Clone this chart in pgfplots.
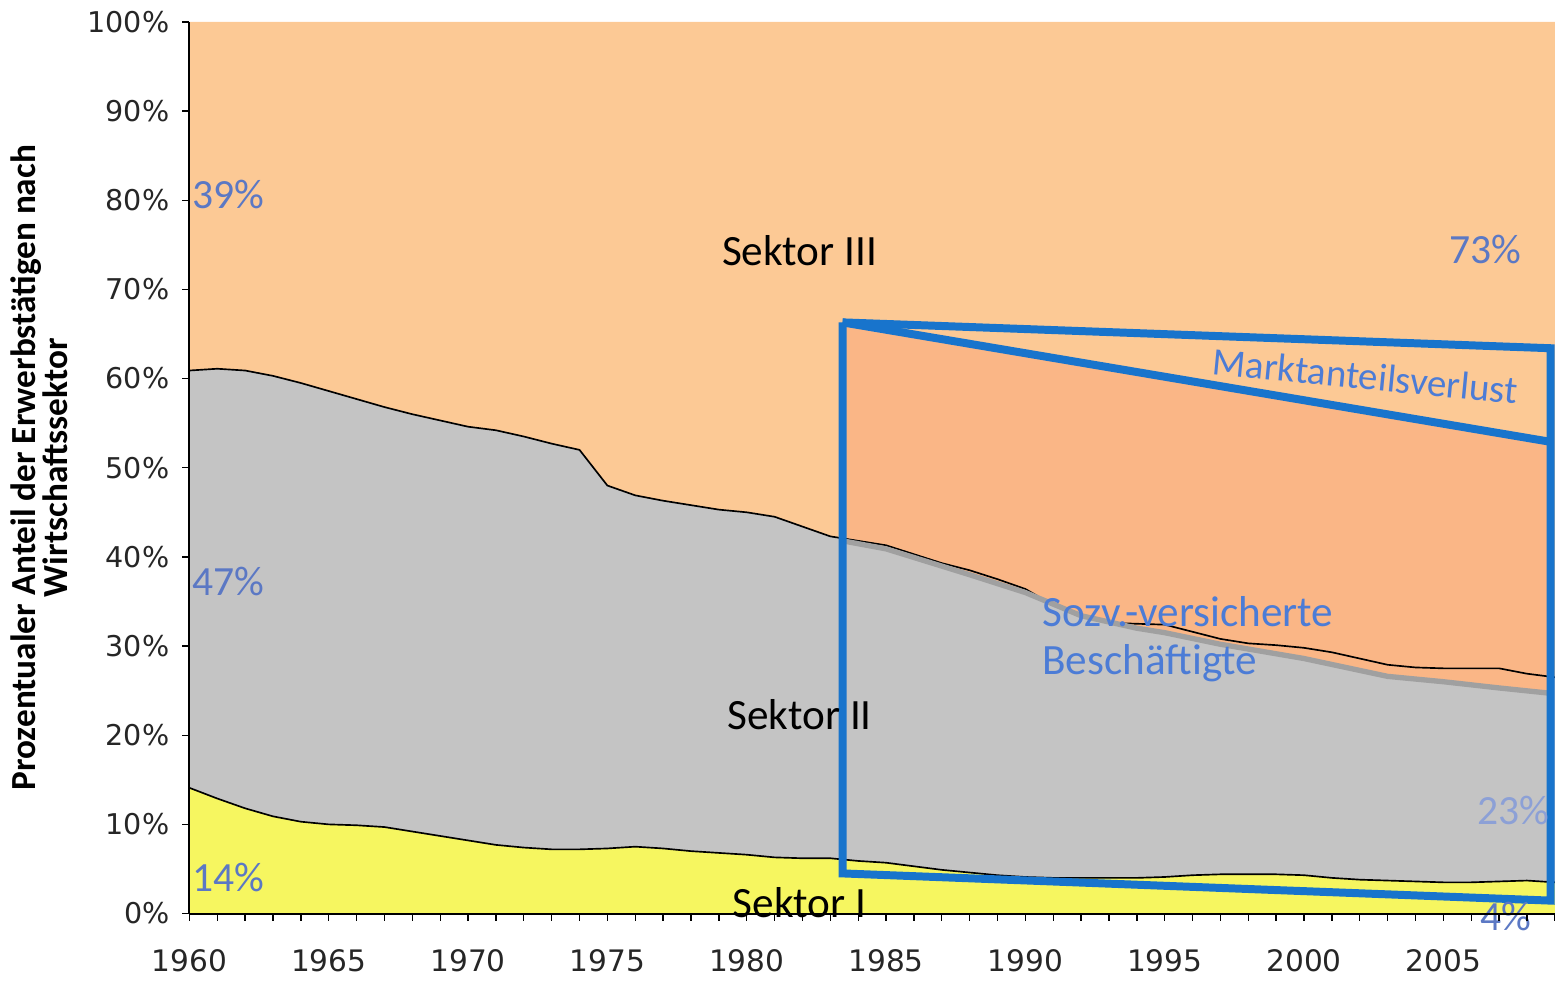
\documentclass[border=0pt]{standalone}
\usepackage{fontspec}
\setmainfont{Carlito}
\newfontfamily\dejavu{DejaVu Sans}
\usepackage{pgfplots}
\usepgfplotslibrary{fillbetween}
\pgfplotsset{compat=1.18}

\definecolor{sek3}{HTML}{FCC995}
\definecolor{sek3dark}{HTML}{FAB686}
\definecolor{sek2}{HTML}{C4C4C4}
\definecolor{sek1}{HTML}{F6F660}
\definecolor{boxblue}{HTML}{1874CC}
\definecolor{pctblue}{HTML}{5B78C4}
\definecolor{txtblue}{HTML}{4C7CD6}
\definecolor{svgrey}{HTML}{A0A0A0}

% upper edge of Sektor I + II (percent)
\pgfplotstableread{
year val
1960 60.9
1961 61.1
1962 60.9
1963 60.3
1964 59.5
1965 58.6
1966 57.7
1967 56.8
1968 56.0
1969 55.3
1970 54.6
1971 54.2
1972 53.5
1973 52.7
1974 52.0
1975 48.0
1976 46.9
1977 46.3
1978 45.8
1979 45.3
1980 45.0
1981 44.5
1982 43.4
1983 42.3
1984 41.8
1985 41.3
1986 40.3
1987 39.3
1988 38.5
1989 37.5
1990 36.4
1991 34.6
1992 33.3
1993 32.6
1994 32.5
1995 32.4
1996 31.6
1997 30.8
1998 30.3
1999 30.1
2000 29.8
2001 29.3
2002 28.6
2003 27.9
2004 27.6
2005 27.5
2006 27.5
2007 27.5
2008 26.9
2009 26.5
}\sektorzwei

% upper edge of Sektor I (percent)
\pgfplotstableread{
year val
1960 14.1
1961 12.9
1962 11.8
1963 10.9
1964 10.3
1965 10.0
1966 9.9
1967 9.7
1968 9.2
1969 8.7
1970 8.2
1971 7.7
1972 7.4
1973 7.2
1974 7.2
1975 7.3
1976 7.5
1977 7.3
1978 7.0
1979 6.8
1980 6.6
1981 6.3
1982 6.2
1983 6.2
1984 5.9
1985 5.7
1986 5.3
1987 4.9
1988 4.6
1989 4.3
1990 4.1
1991 4.0
1992 4.0
1993 4.0
1994 4.0
1995 4.1
1996 4.3
1997 4.4
1998 4.4
1999 4.4
2000 4.3
2001 4.0
2002 3.8
2003 3.7
2004 3.6
2005 3.5
2006 3.5
2007 3.6
2008 3.7
2009 3.5
}\sektoreins

% sozialversicherte Beschaeftigte (grey line in the box)
\pgfplotstableread{
year val
1983.44 41.8
1985 40.9
1988 38.0
1990 36.0
1992 33.4
1994 32.0
1995 31.5
1997 30.2
2000 28.6
2003 26.6
2005 26.0
2007 25.3
2008.85 24.7
}\svline

\begin{document}
\begin{tikzpicture}
\begin{axis}[
    width=410.7pt, height=268.2pt, scale only axis,
    xmin=1960, xmax=2009, ymin=0, ymax=100,
    axis x line=bottom, axis y line=left,
    axis line style={-, black, line width=0.6pt},
    axis on top,
    clip=false,
    xtick={1960,1965,...,2005},
    xticklabels={1960,1965,1970,1975,1980,1985,1990,1995,2000,2005},
    minor xtick={1960,1961,...,2009},
    ytick={0,10,...,100},
    yticklabels={0\%,10\%,20\%,30\%,40\%,50\%,60\%,70\%,80\%,90\%,100\%},
    tick align=outside,
    major tick length=2.2pt, minor tick length=2.2pt,
    tick style={black, line width=0.4pt},
    xticklabel style={font=\dejavu\fontsize{8.9}{10}\selectfont, text=black!85, yshift=-5pt},
    yticklabel style={font=\dejavu\fontsize{8.6}{10}\selectfont, text=black!85, xshift=-0.3pt},
    ylabel={Prozentualer Anteil der Erwerbstätigen nach\\Wirtschaftssektor},
    ylabel style={at={(axis description cs:-0.110,0.5)}, anchor=center,
        align=center, font=\bfseries\fontsize{10.6}{9.4}\selectfont},
]
\addplot[name path=top, draw=none] coordinates {(1960,100) (2009,100)};
\addplot[name path=base, draw=none] coordinates {(1960,0) (2009,0)};
\addplot[name path=b2, draw=none] table[x=year, y=val] {\sektorzwei};
\addplot[name path=b1, draw=none] table[x=year, y=val] {\sektoreins};

\addplot[sek3] fill between[of=top and b2];
\addplot[sek2] fill between[of=b2 and b1];
\addplot[sek1] fill between[of=b1 and base];

\addplot[black, line width=0.5pt] table[x=year, y=val] {\sektoreins};

% highlighted box
\addplot[name path=diag, draw=none] coordinates {(1983.44,66.3) (2008.85,52.9)};
\addplot[name path=sv, draw=none] table[x=year, y=val] {\svline};
\addplot[sek3dark] fill between[of=diag and sv];

\addplot[black, line width=0.5pt] table[x=year, y=val] {\sektorzwei};
\addplot[svgrey, line width=1.6pt] table[x=year, y=val] {\svline};

\addplot[boxblue, line width=2.4pt, line join=miter] coordinates {
    (1983.44,66.3) (2008.85,63.4) (2008.85,1.45) (1983.44,4.5) (1983.44,66.3)};
\addplot[boxblue, line width=2.4pt] coordinates {(1983.44,66.3) (2008.85,52.9)};

% labels
\begin{scope}[font=\fontsize{12.5}{14}\selectfont]
\node[anchor=west, inner xsep=0.3pt, text=pctblue] at (axis cs:1960.05,80.6) {39\%};
\node[anchor=west, inner xsep=0.3pt, text=pctblue] at (axis cs:1960.05,37.2) {47\%};
\node[anchor=west, inner xsep=0.3pt, text=pctblue] at (axis cs:1960.05,4.0) {14\%};
\node[text=pctblue] at (axis cs:2006.5,74.5) {73\%};
\node[text=pctblue!70] at (axis cs:2007.5,11.6) {23\%};
\node[text=pctblue] at (axis cs:2007.25,-0.3) {4\%};
\end{scope}
\begin{scope}[font=\fontsize{13}{15}\selectfont]
\node at (axis cs:1981.9,74.4) {Sektor III};
\node at (axis cs:1981.9,22.3) {Sektor II};
\node at (axis cs:1981.9,1.2) {Sektor I};
\node[text=txtblue, anchor=west, inner xsep=0.3pt] at (axis cs:1990.55,33.9) {Sozv.-versicherte};
\node[text=txtblue, anchor=west, inner xsep=0.3pt] at (axis cs:1990.55,28.1) {Beschäftigte};
\end{scope}
\node[text=txtblue, rotate=-5.5, font=\fontsize{11.7}{13}\selectfont] at (axis cs:2002.2,60.3) {Marktanteilsverlust};
\end{axis}
\end{tikzpicture}
\end{document}
